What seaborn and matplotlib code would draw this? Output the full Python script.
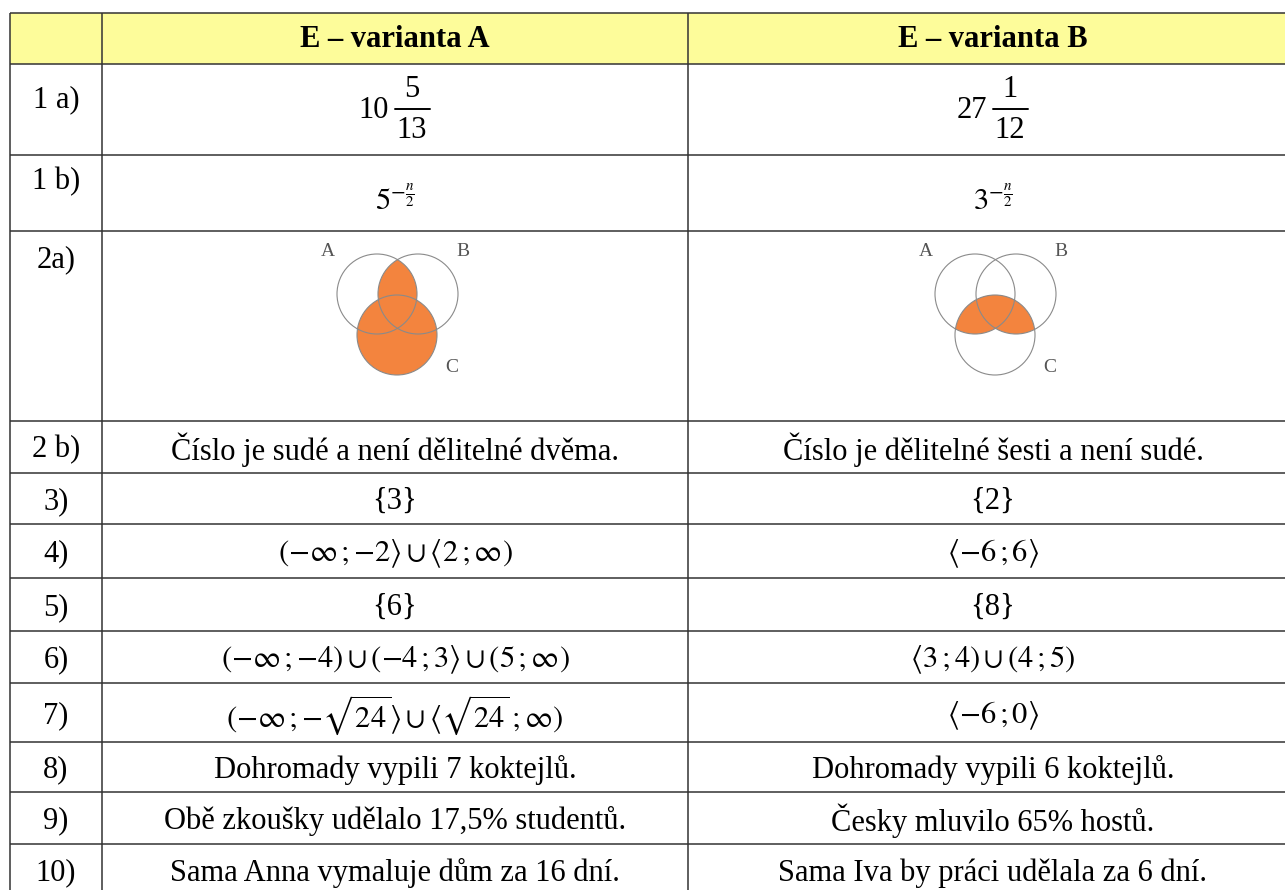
import matplotlib
matplotlib.use("Agg")
import matplotlib.pyplot as plt
import seaborn as sns
from matplotlib.patches import Circle, Rectangle

# ---------- DATA ----------
headers = ["E – varianta A", "E – varianta B"]

row_labels = ["1 a)", "1 b)", "2a)", "2 b)", "3)", "4)", "5)", "6)", "7)",
              "8)", "9)", "10)"]

# 1 a) mixed numbers: whole, numerator, denominator
mixed_a = ("10", "5", "13")
mixed_b = ("27", "1", "12")

answers_a = [
    None,
    r"$5^{-\frac{n}{2}}$",
    None,
    "Číslo je sudé a není dělitelné dvěma.",
    "{3}",
    r"$(-\infty\,;{-}2\rangle\cup\langle 2\,;\infty)$",
    "{6}",
    r"$(-\infty\,;{-}4)\cup({-}4\,;3\rangle\cup(5\,;\infty)$",
    r"$(-\infty\,;{-}\sqrt{24}\rangle\cup\langle\sqrt{24}\,;\infty)$",
    "Dohromady vypili 7 koktejlů.",
    "Obě zkoušky udělalo 17,5% studentů.",
    "Sama Anna vymaluje dům za 16 dní.",
]

answers_b = [
    None,
    r"$3^{-\frac{n}{2}}$",
    None,
    "Číslo je dělitelné šesti a není sudé.",
    "{2}",
    r"$\langle {-}6\,;6\rangle$",
    "{8}",
    r"$\langle 3\,;4)\cup(4\,;5)$",
    r"$\langle {-}6\,;0\rangle$",
    "Dohromady vypili 6 koktejlů.",
    "Česky mluvilo 65% hostů.",
    "Sama Iva by práci udělala za 6 dní.",
]

# which Venn regions are shaded in task 2a
venn_a = "(A∩B)∪C"
venn_b = "(A∪B)∩C"

# ---------- LAYOUT ----------
col_edges = [10, 102, 688, 1298]
row_edges = [13, 64, 155, 231, 421, 473, 524, 578, 631, 683, 742, 792, 844, 896]
top_rows = {0: 85, 1: 167, 2: 245}   # labels aligned to the top of tall rows
y_shift = {1: 9}                     # power expressions sit a bit lower
text_drop = 3                        # optical centring of single-line cells

header_color = "#fdfc9a"
orange = "#f3843e"
line_color = "#333333"
font_size = 22

sns.set_style("white")
plt.rcParams["font.family"] = ["Liberation Serif", "DejaVu Serif"]
plt.rcParams["mathtext.fontset"] = "stix"
plt.rcParams["text.color"] = "black"

fig = plt.figure(figsize=(12.85, 8.9), dpi=100)
ax = fig.add_axes([0, 0, 1, 1])
ax.set_xlim(0, 1285)
ax.set_ylim(890, 0)
ax.axis("off")

# ---------- HEADER ----------
ax.add_patch(Rectangle((col_edges[0], row_edges[0]), col_edges[-1] - col_edges[0],
                       row_edges[1] - row_edges[0], fc=header_color, ec="none"))
for i, h in enumerate(headers):
    xc = (col_edges[i + 1] + col_edges[i + 2]) / 2
    ax.text(xc, (row_edges[0] + row_edges[1]) / 2 + 1, h, ha="center", va="center",
            fontsize=font_size, fontweight="bold")

# ---------- GRID ----------
ax.hlines(row_edges, col_edges[0], col_edges[-1], color=line_color, lw=1.1)
ax.vlines(col_edges, row_edges[0], row_edges[-1], color=line_color, lw=1.1)

# ---------- ROWS ----------
for r, label in enumerate(row_labels):
    y0, y1 = row_edges[r + 1], row_edges[r + 2]
    yc = (y0 + y1) / 2
    xl = (col_edges[0] + col_edges[1]) / 2
    if r in top_rows:
        ax.text(xl, top_rows[r], label, ha="center", va="top", fontsize=font_size)
    else:
        ax.text(xl, yc + text_drop, label, ha="center", va="center", fontsize=font_size)
    for c, ans in enumerate([answers_a[r], answers_b[r]]):
        if ans is None:
            continue
        xc = (col_edges[c + 1] + col_edges[c + 2]) / 2
        dy = y_shift.get(r, text_drop)
        ax.text(xc, yc + dy, ans, ha="center", va="center", fontsize=font_size)


# ---------- MIXED NUMBERS (1 a) ----------
def mixed(cx, cy, parts):
    whole, num, den = parts
    ax.text(cx - 6, cy + 1, whole, ha="right", va="center", fontsize=font_size)
    ax.text(cx + 17, cy - 20, num, ha="center", va="center", fontsize=font_size)
    ax.text(cx + 17, cy + 21, den, ha="center", va="center", fontsize=font_size)
    ax.plot([cx, cx + 35], [cy - 1, cy - 1], color="black", lw=1.4)


ycell = (row_edges[1] + row_edges[2]) / 2
mixed((col_edges[1] + col_edges[2]) / 2, ycell, mixed_a)
mixed((col_edges[2] + col_edges[3]) / 2, ycell, mixed_b)


# ---------- VENN (2a) ----------
def venn(cx, cy, shading):
    r = 40
    centers = {"A": (cx - 20, cy - 20), "B": (cx + 21, cy - 20), "C": (cx, cy + 21)}
    circ = {k: Circle(v, r, transform=ax.transData) for k, v in centers.items()}
    if shading == "(A∩B)∪C":
        ax.add_patch(Circle(centers["C"], r, fc=orange, ec="none"))
        lens = ax.add_patch(Circle(centers["B"], r, fc=orange, ec="none"))
        lens.set_clip_path(circ["A"])
    else:
        for k in ["A", "B"]:
            p = ax.add_patch(Circle(centers[k], r, fc=orange, ec="none"))
            p.set_clip_path(circ["C"])
    for k, v in centers.items():
        ax.add_patch(Circle(v, r, fc="none", ec="#8a8a8a", lw=0.8))
    lbl = dict(fontsize=14, color="#555555", ha="center", va="center")
    ax.text(cx - 69, cy - 62, "A", **lbl)
    ax.text(cx + 66, cy - 62, "B", **lbl)
    ax.text(cx + 55, cy + 53, "C", **lbl)


venn(397, 314, venn_a)
venn(995, 314, venn_b)

fig.savefig("out.png", dpi=100)
